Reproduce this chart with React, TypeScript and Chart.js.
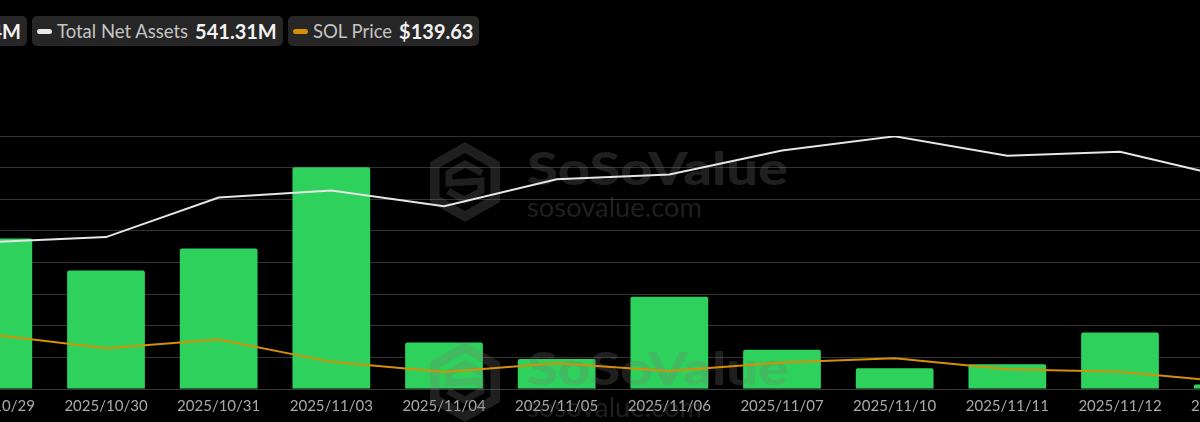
import React, { useEffect, useRef } from 'react';
import { Chart, registerables } from 'chart.js';

Chart.register(...registerables);

// ---- data ----
const labels = [
  '2025/10/29', '2025/10/30', '2025/10/31', '2025/11/03', '2025/11/04', '2025/11/05',
  '2025/11/06', '2025/11/07', '2025/11/10', '2025/11/11', '2025/11/12', '2025/11/13',
];
// Daily net inflow (USD millions)
const dailyNetInflow = [47.6, 37.5, 44.4, 70.1, 14.7, 9.5, 29.2, 12.4, 6.6, 7.8, 17.9, 1.4];
// Total net assets (USD millions)
const totalNetAssets = [377.9, 390.3, 491.9, 509.9, 469.4, 539.1, 551.2, 612.6, 649.2, 599.2, 609.5, 541.31];
// SOL price (USD)
const solPrice = [194.1, 178.8, 188.7, 163.1, 151.6, 161.6, 152.7, 162.5, 167.3, 154.7, 151.9, 139.63];

const legendItems = [
  { label: 'Daily Net Inflow', value: '1.44M', color: '#2ed15b' },
  { label: 'Total Net Assets', value: '541.31M', color: '#e8e8e8' },
  { label: 'SOL Price', value: '$139.63', color: '#d68f06' },
];

const GREEN = '#2ed15b';
const WHITE_LINE = '#e6e6e6';
const ORANGE = '#d68f06';
const FONT = 'Lato, "Noto Sans", sans-serif';

// canvas placement (the visible picture is a crop of a wider chart)
const CANVAS_LEFT = -63;
const CANVAS_TOP = 126;
const CANVAS_W = 1352;
const CANVAS_H = 305;

const drawMark = (ctx: CanvasRenderingContext2D, px: number, py: number) => {
  const x0 = px - CANVAS_LEFT;
  const y0 = py - CANVAS_TOP;
  const cx = x0 + 35;
  const cy = y0 + 40;
  ctx.save();
  ctx.fillStyle = 'rgba(120,120,120,0.26)';
  ctx.strokeStyle = 'rgba(120,120,120,0.26)';
  const hex = (r: number) => {
    const rx = r * 0.875;
    ctx.moveTo(cx, cy - r);
    ctx.lineTo(cx + rx, cy - r / 2);
    ctx.lineTo(cx + rx, cy + r / 2);
    ctx.lineTo(cx, cy + r);
    ctx.lineTo(cx - rx, cy + r / 2);
    ctx.lineTo(cx - rx, cy - r / 2);
    ctx.closePath();
  };
  ctx.beginPath();
  hex(40);
  hex(29);
  ctx.fill('evenodd');
  ctx.lineWidth = 7;
  ctx.lineJoin = 'miter';
  ctx.beginPath();
  ctx.moveTo(cx + 17, cy - 9);
  ctx.lineTo(cx, cy - 18);
  ctx.lineTo(cx - 16, cy - 9);
  ctx.lineTo(cx - 16, cy + 1);
  ctx.lineTo(cx + 16, cy - 1);
  ctx.lineTo(cx + 16, cy + 9);
  ctx.lineTo(cx, cy + 18);
  ctx.lineTo(cx - 17, cy + 9);
  ctx.stroke();

  ctx.font = `900 46px ${FONT}`;
  ctx.textBaseline = 'alphabetic';
  const big = 'SoSoValue';
  const bw = ctx.measureText(big).width;
  ctx.save();
  ctx.translate(527 - CANVAS_LEFT, y0 + 43);
  ctx.scale(261 / bw, 1);
  ctx.fillText(big, 0, 0);
  ctx.restore();
  ctx.font = `400 27px ${FONT}`;
  const small = 'sosovalue.com';
  const sw = ctx.measureText(small).width;
  ctx.save();
  ctx.translate(527 - CANVAS_LEFT, y0 + 75);
  ctx.scale(175 / sw, 1);
  ctx.fillText(small, 0, 0);
  ctx.restore();
  ctx.restore();
};

const watermarkPlugin = {
  id: 'sosoWatermark',
  afterDatasetDraw(chart: any, args: any) {
    if (args.index !== 0) return;
    const ctx = chart.ctx as CanvasRenderingContext2D;
    drawMark(ctx, 430, 142);
    drawMark(ctx, 430, 342);
  },
};

function LegendBox({ item, style }: { item: typeof legendItems[number]; style: React.CSSProperties }) {
  return (
    <div
      style={{
        position: 'absolute',
        top: 16,
        height: 30,
        display: 'flex',
        alignItems: 'center',
        background: '#262626',
        borderRadius: 5,
        padding: '0 6px 0 5px',
        whiteSpace: 'nowrap',
        fontFamily: FONT,
        ...style,
      }}
    >
      <span style={{ display: 'inline-block', width: 15, height: 5, borderRadius: 3, background: item.color, marginRight: 5 }} />
      <span style={{ fontSize: 18.5, color: '#c4c4c4' }}>{item.label}</span>
      <span style={{ fontSize: 20, fontWeight: 700, color: '#f2f2f2', marginLeft: 7 }}>{item.value}</span>
    </div>
  );
}

export default function App() {
  const canvasRef = useRef<HTMLCanvasElement | null>(null);

  useEffect(() => {
    const canvas = canvasRef.current;
    if (!canvas) return;
    const chart = new Chart(canvas, {
      type: 'bar',
      data: {
        labels,
        datasets: [
          {
            type: 'bar',
            label: 'Daily Net Inflow',
            data: dailyNetInflow,
            backgroundColor: GREEN,
            borderRadius: 2,
            borderSkipped: 'bottom',
            barPercentage: 0.69,
            categoryPercentage: 1,
            yAxisID: 'y',
            order: 3,
          },
          {
            type: 'line',
            label: 'Total Net Assets',
            data: totalNetAssets,
            borderColor: WHITE_LINE,
            borderWidth: 2,
            pointRadius: 0,
            tension: 0,
            yAxisID: 'yAssets',
            order: 2,
          },
          {
            type: 'line',
            label: 'SOL Price',
            data: solPrice,
            borderColor: ORANGE,
            borderWidth: 2,
            pointRadius: 0,
            tension: 0,
            yAxisID: 'yPrice',
            order: 1,
          },
        ],
      },
      options: {
        responsive: false,
        animation: false,
        devicePixelRatio: 1,
        layout: { padding: { top: 10, bottom: 8, left: 0, right: 0 } },
        plugins: { legend: { display: false }, tooltip: { enabled: false } },
        scales: {
          x: {
            offset: true,
            grid: { display: false, drawTicks: false },
            border: { display: true, color: '#3a3a3a', width: 1 },
            ticks: {
              autoSkip: false,
              maxRotation: 0,
              minRotation: 0,
              padding: 8,
              color: '#a9a9a9',
              font: { family: FONT, size: 15 },
            },
          },
          y: {
            position: 'left',
            min: 0,
            max: 80,
            ticks: { display: false, stepSize: 10 },
            grid: { color: '#333333', lineWidth: 1, drawTicks: false },
            border: { display: false },
          },
          yAssets: { display: false, min: 0, max: 650 },
          yPrice: { display: false, min: 132, max: 422 },
        },
      },
      plugins: [watermarkPlugin],
    });
    return () => chart.destroy();
  }, []);

  return (
    <div
      style={{
        position: 'fixed',
        left: 0,
        top: 0,
        width: 1200,
        height: 422,
        overflow: 'hidden',
        background: '#000',
      }}
    >
      <canvas
        ref={canvasRef}
        width={CANVAS_W}
        height={CANVAS_H}
        style={{ position: 'absolute', left: CANVAS_LEFT, top: CANVAS_TOP, width: CANVAS_W, height: CANVAS_H }}
      />
      <LegendBox item={legendItems[0]} style={{ right: 1200 - 27 }} />
      <LegendBox item={legendItems[1]} style={{ left: 32 }} />
      <LegendBox item={legendItems[2]} style={{ left: 288 }} />
    </div>
  );
}
